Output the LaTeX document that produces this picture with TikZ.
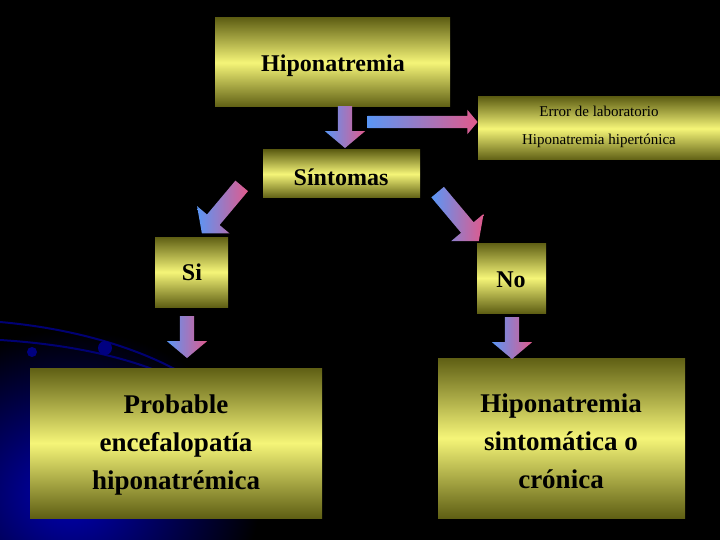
\documentclass[tikz,border=0pt]{standalone}
\usepackage{fontspec}
\setmainfont{Liberation Serif}
\usetikzlibrary{shapes.arrows}
\definecolor{olv}{RGB}{95,95,20}
\definecolor{yel}{RGB}{245,245,120}
\definecolor{pnk}{RGB}{225,90,140}
\definecolor{blu}{RGB}{90,150,245}
\tikzset{
  box/.style={top color=olv,bottom color=olv,middle color=yel,draw=none},
  txt/.style={font=\bfseries,align=center,text=black,inner sep=0pt},
  barrow/.style={single arrow,draw=none,left color=blu,right color=pnk,
    minimum width=#1,single arrow head extend=13pt,single arrow tip angle=100,inner sep=0pt,
    single arrow head indent=0pt},
  barrow/.default=40pt
}
\newcommand{\shaft}[1]{\rule{0pt}{#1}}
\begin{document}
\begin{tikzpicture}[x=1pt,y=-1pt]
\fill[black] (0,0) rectangle (720,540);
\useasboundingbox (0,0) rectangle (720,540);
% blue glow bottom-left
\shade[inner color=blue!70!black,outer color=black] (-120,330) rectangle (260,660);
\fill[black] (0,0) rectangle (720,300);
\begin{scope}[draw=blue!45!black,line width=2pt]
\draw (0,322) .. controls (90,330) and (150,355) .. (180,372);
\draw (0,340) .. controls (80,345) and (130,360) .. (160,372);
\fill[blue!50!black] (105,348) circle (7);
\fill[blue!50!black] (32,352) circle (5);
\end{scope}
% boxes
\fill[box] (215,18) rectangle (450,107);
\node[txt,font=\bfseries\fontsize{24}{28}\selectfont] (h) at (333,66) {Hiponatremia};
\fill[box] (478,97) rectangle (720,160);
\node[txt,font=\fontsize{15}{28}\selectfont] (e) at (599,127) {Error de laboratorio\\Hiponatremia hipertónica};
\fill[box] (263,150) rectangle (420,198);
\node[txt,font=\bfseries\fontsize{24}{28}\selectfont] (s) at (341,177) {Síntomas};
\fill[box] (155,237) rectangle (228,307);
\node[txt,font=\bfseries\fontsize{24}{28}\selectfont] (si) at (192,272) {Si};
\fill[box] (477,243) rectangle (546,313);
\node[txt,font=\bfseries\fontsize{24}{28}\selectfont] (no) at (511,280) {No};
\fill[box] (30,368) rectangle (322,518);
\node[txt,font=\bfseries\fontsize{27}{38}\selectfont] (p) at (176,445) {Probable\\encefalopatía\\hiponatrémica};
\fill[box] (438,358) rectangle (685,518);
\node[txt,font=\bfseries\fontsize{27}{38}\selectfont] (c) at (561,441) {Hiponatremia\\sintomática o\\crónica};
% arrows
\node[barrow,minimum height=42pt,rotate=-90] (a1) at (345,124) {\shaft{14pt}};
\node[barrow=24pt,minimum height=110pt,single arrow head extend=6pt] (a2) at (420,122) {\shaft{12pt}};
\node[barrow,minimum height=62pt,rotate=-130] (a3) at (224,207) {\shaft{16pt}};
\node[barrow,minimum height=64pt,rotate=-50] (a4) at (456,214) {\shaft{16pt}};
\node[barrow,minimum height=42pt,rotate=-90] (a5) at (187,334) {\shaft{14pt}};
\node[barrow,minimum height=42pt,rotate=-90] (a6) at (512,335) {\shaft{14pt}};
\end{tikzpicture}
\end{document}
